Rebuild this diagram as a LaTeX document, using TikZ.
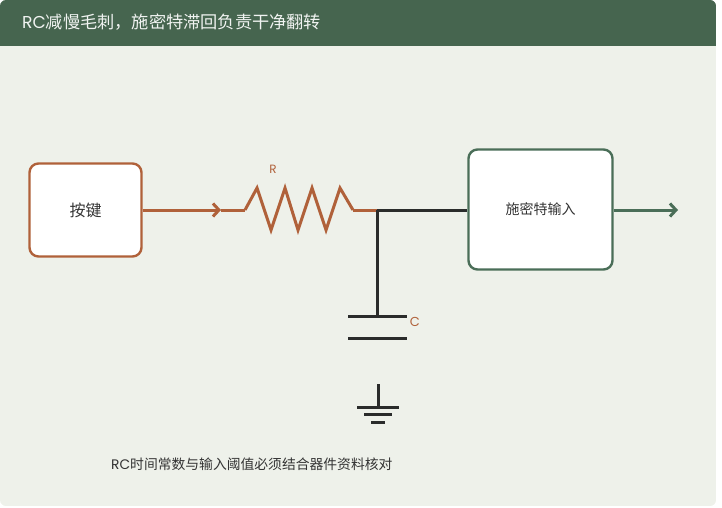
\documentclass[tikz,border=0pt]{standalone}
\usepackage{fontspec}
\setmainfont{Poppins}
\newfontfamily\cjk{Noto Sans CJK SC}
\usetikzlibrary{arrows.meta}

\definecolor{cardbg}{HTML}{EEF1EA}
\definecolor{barbg}{HTML}{46654F}
\definecolor{rust}{HTML}{B0613A}
\definecolor{pine}{HTML}{4A6E58}
\definecolor{ink}{HTML}{2A2C2B}
\definecolor{txt}{HTML}{333333}

\begin{document}
\begin{tikzpicture}[x=1pt, y=-1pt,
    block/.style={draw, fill=white, line width=2.4pt, rounded corners=9pt, inner sep=0pt},
    wire/.style={line width=3pt},
    tip/.style={-{Straight Barb[length=6pt, width=13pt]}}]
        \useasboundingbox (0, 0) rectangle (722, 508);
        \begin{scope}
            \clip[rounded corners=6pt] (0, 0) rectangle (716, 506);
            \fill[cardbg] (0, 0) rectangle (716, 506);
            \fill[barbg] (0, 0) rectangle (716, 46);
        \end{scope}
        \node[anchor=west, text=white!92!barbg, font=\fontsize{17.2}{20}\selectfont, inner sep=0pt] (title) at (22, 22) {RC{\cjk 减慢毛刺，施密特滞回负责干净翻转}};

        \node[block, draw=rust, minimum width=112pt, minimum height=93pt, font=\cjk\fontsize{16}{18}\selectfont, text=txt] (key) at (85.5, 210) {按键};
        \node[block, draw=pine, minimum width=144pt, minimum height=120pt, font=\cjk\fontsize{14}{17}\selectfont, text=txt] (schmitt) at (540.5, 209.5) {施密特输入};

        \coordinate (mid) at (221, 210);
        \coordinate (ra) at (245, 210);
        \coordinate (rb) at (353, 210);
        \coordinate (jn) at (377, 210);
        \coordinate (cp) at (377, 316);
        \coordinate (out) at (678, 210);
        \coordinate (gnd) at (378, 384);

        % input and resistor
        \draw[wire, rust, tip] (key.east |- mid) -- (mid);
        \draw[wire, rust] (mid) -- (ra);
        \draw[wire, rust, line join=miter] (ra) -- ++(12, -22) -- ++(14, 42) -- ++(14, -42) -- ++(13, 42)
            -- ++(14, -42) -- ++(14, 42) -- ++(14, -42) -- (rb);
        \draw[wire, rust] (rb) -- (jn);
        \node[text=rust, font=\fontsize{12}{14}\selectfont] (rlabel) at (273, 169) {R};

        % node to schmitt input and capacitor
        \draw[wire, ink] (jn) -- (schmitt.west |- jn);
        \draw[wire, ink] (jn) -- (cp);
        \draw[wire, ink] (348, 316) -- (407, 316);
        \draw[wire, ink] (348, 338) -- (407, 338);
        \node[text=rust, font=\fontsize{13}{15}\selectfont] (clabel) at (415, 322) {C};

        % ground
        \draw[wire, ink] (gnd) -- ++(0, 23);
        \draw[wire, ink] (357, 407) -- (399, 407);
        \draw[wire, ink] (364, 414.5) -- (392, 414.5);
        \draw[wire, ink] (371, 422) -- (385, 422);

        % output
        \draw[wire, pine, tip] (schmitt.east |- out) -- (out);

        \node[anchor=west, text=txt, font=\fontsize{13.8}{16}\selectfont, inner sep=0pt] (note) at (111, 464) {RC{\cjk 时间常数与输入阈值必须结合器件资料核对}};
\end{tikzpicture}
\end{document}
